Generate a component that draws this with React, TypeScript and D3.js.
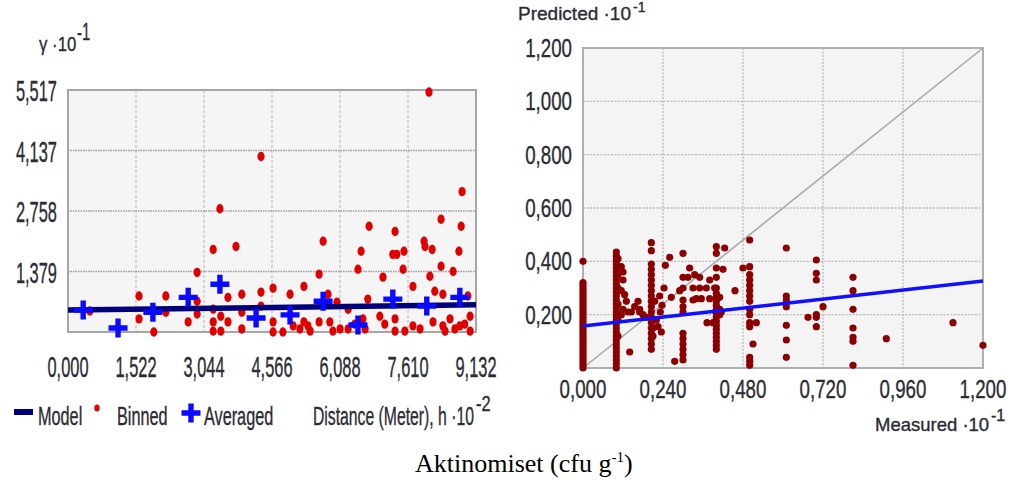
import React from "react";
import * as d3 from "d3";

// ---------- Left: semivariogram ----------
const leftXTicks = [0, 1.522, 3.044, 4.566, 6.088, 7.61, 9.132];
const leftXTickLabels = ["0,000", "1,522", "3,044", "4,566", "6,088", "7,610", "9,132"];
const leftYTicks = [1.379, 2.758, 4.137, 5.517];
const leftYTickLabels = ["1,379", "2,758", "4,137", "5,517"];
const legendLabels = ["Model", "Binned", "Averaged"];
const leftAxisTitle = "Distance (Meter), h ·10";

const modelLine: [number, number][] = [[0, 0.5], [9.132, 0.62]];

const averaged: [number, number][] = [
  [0.34, 0.5], [1.12, 0.09], [1.9, 0.45], [2.69, 0.79], [3.4, 1.09], [4.21, 0.32],
  [4.97, 0.39], [5.71, 0.7], [6.49, 0.16], [7.27, 0.75], [8.03, 0.59], [8.77, 0.79],
];

const binned: [number, number][] = [
  [0.49, 0.48], [1.59, 0.82], [1.59, 0.3], [1.92, 0.0], [2.19, 0.82], [2.19, 0.45], [2.69, 0.23],
  [2.89, 1.36], [2.89, 0.7], [2.89, 0.41], [3.25, 1.88], [3.25, 0.52], [3.25, 0.23], [3.25, 0.02],
  [3.4, 2.81], [3.42, 0.36], [3.42, 0.02], [3.58, 0.79], [3.58, 0.23], [3.76, 1.95], [3.89, 0.86],
  [3.89, 0.45], [3.89, 0.07], [4.32, 0.91], [4.32, 0.59], [4.32, 4.0], [4.59, 1.0], [4.59, 0.23],
  [4.59, 0.0], [4.81, 0.0], [4.97, 0.86], [5.04, 0.14], [5.28, 1.04], [5.28, 0.23], [5.37, 0.14],
  [5.62, 1.32], [5.62, 0.23], [5.71, 2.07], [5.82, 0.86], [5.86, 0.23], [5.93, 0.02], [6.02, 0.68],
  [6.27, 0.52], [6.27, 0.07], [6.49, 1.43], [6.56, 1.84], [6.6, 0.3], [6.71, 0.75], [6.74, 2.41],
  [6.98, 0.36], [7.05, 1.25], [7.27, 1.77], [7.32, 2.29], [7.36, 1.77], [7.32, 0.3], [7.32, 0.02],
  [7.5, 1.43], [7.52, 1.84], [7.72, 1.04], [7.72, 0.14], [7.97, 2.07], [7.99, 1.95], [8.1, 1.27],
  [8.15, 1.88], [8.17, 0.23], [8.21, 0.93], [8.35, 2.57], [8.35, 1.5], [8.39, 0.86], [8.39, 0.14],
  [8.62, 1.38], [8.75, 1.84], [8.8, 2.41], [8.82, 3.2], [8.77, 0.14], [8.95, 0.82], [9.0, 0.36],
  [9.0, 0.02], [8.08, 5.47], [6.65, 0.07], [7.09, 0.18], [7.54, 0.02], [7.88, 0.07], [8.44, 0.02],
  [8.55, 0.3], [8.66, 0.07], [8.88, 0.18], [5.19, 0.07], [5.42, 0.02], [6.09, 0.07], [6.42, 0.18],
];

// ---------- Right: measured vs predicted ----------
const rightXTicks = [0, 0.24, 0.48, 0.72, 0.96, 1.2];
const rightXTickLabels = ["0,000", "0,240", "0,480", "0,720", "0,960", "1,200"];
const rightYTicks = [0.2, 0.4, 0.6, 0.8, 1.0, 1.2];
const rightYTickLabels = ["0,200", "0,400", "0,600", "0,800", "1,000", "1,200"];
const regression: [number, number][] = [[0, 0.1575], [1.2, 0.326]];
const identity: [number, number][] = [[0, 0], [1.2, 1.2]];

const measuredPredicted: [number, number][] = [
  // measured 0
  [0, 0], [0, 0.01], [0, 0.02], [0, 0.03], [0, 0.04], [0, 0.05], [0, 0.06], [0, 0.07], [0, 0.08],
  [0, 0.09], [0, 0.1], [0, 0.11], [0, 0.12], [0, 0.13], [0, 0.14], [0, 0.15], [0, 0.16], [0, 0.17],
  [0, 0.18], [0, 0.19], [0, 0.2], [0, 0.21], [0, 0.22], [0, 0.23], [0, 0.24], [0, 0.25], [0, 0.26],
  [0, 0.27], [0, 0.28], [0, 0.29], [0, 0.3], [0, 0.31], [0, 0.32], [0, 0.4],
  // measured ~0.1
  [0.1, 0], [0.1, 0.015], [0.1, 0.03], [0.1, 0.045], [0.1, 0.06], [0.1, 0.075], [0.1, 0.09],
  [0.1, 0.105], [0.1, 0.12], [0.1, 0.135], [0.1, 0.15], [0.1, 0.165], [0.1, 0.18], [0.1, 0.195],
  [0.1, 0.21], [0.1, 0.225], [0.1, 0.24], [0.1, 0.255], [0.1, 0.27], [0.1, 0.285], [0.1, 0.3],
  [0.1, 0.315], [0.1, 0.33], [0.1, 0.345], [0.1, 0.36], [0.1, 0.375], [0.1, 0.39], [0.1, 0.405],
  [0.1, 0.42], [0.1, 0.435], [0.105, 0.41], [0.105, 0.35], [0.105, 0.3], [0.105, 0.24],
  [0.105, 0.18], [0.105, 0.12],
  [0.115, 0.38], [0.12, 0.33], [0.115, 0.29], [0.125, 0.275], [0.13, 0.25], [0.12, 0.22],
  [0.135, 0.21], [0.115, 0.2], [0.12, 0.36], [0.14, 0.06],
  [0.165, 0.25], [0.17, 0.22], [0.18, 0.2], [0.17, 0.21], [0.19, 0.19], [0.155, 0.23], [0.145, 0.21],
  // measured ~0.2
  [0.205, 0.07], [0.205, 0.09], [0.205, 0.11], [0.205, 0.13], [0.205, 0.15], [0.205, 0.17],
  [0.205, 0.19], [0.205, 0.21], [0.205, 0.23], [0.205, 0.25], [0.205, 0.27], [0.205, 0.29],
  [0.205, 0.31], [0.205, 0.33], [0.205, 0.35], [0.205, 0.37], [0.205, 0.39], [0.205, 0.44],
  [0.205, 0.47], [0.21, 0.15], [0.21, 0.12], [0.215, 0.18], [0.215, 0.25],
  [0.22, 0.18], [0.23, 0.27], [0.237, 0.235], [0.243, 0.3], [0.232, 0.21], [0.235, 0.135],
  [0.225, 0.155], [0.247, 0.385], [0.26, 0.415], [0.265, 0.265], [0.29, 0.29], [0.275, 0.025],
  // measured ~0.3
  [0.3, 0.03], [0.3, 0.05], [0.3, 0.07], [0.3, 0.09], [0.3, 0.11], [0.3, 0.13], [0.3, 0.21],
  [0.3, 0.23], [0.3, 0.255], [0.3, 0.3], [0.3, 0.34], [0.3, 0.43],
  [0.32, 0.375], [0.335, 0.35], [0.315, 0.34], [0.35, 0.34], [0.37, 0.3], [0.33, 0.3], [0.34, 0.26],
  [0.355, 0.26], [0.38, 0.26], [0.33, 0.255], [0.35, 0.3], [0.372, 0.17],
  // measured ~0.4
  [0.4, 0.07], [0.4, 0.085], [0.4, 0.1], [0.4, 0.115], [0.4, 0.13], [0.4, 0.145], [0.4, 0.16],
  [0.4, 0.175], [0.4, 0.19], [0.4, 0.205], [0.4, 0.22], [0.4, 0.235], [0.4, 0.25], [0.4, 0.265],
  [0.4, 0.28], [0.4, 0.3], [0.4, 0.34], [0.4, 0.375], [0.4, 0.43], [0.4, 0.455],
  [0.425, 0.45], [0.395, 0.3], [0.456, 0.29], [0.48, 0.375], [0.41, 0.265], [0.41, 0.22],
  [0.39, 0.17], [0.38, 0.33], [0.42, 0.37], [0.41, 0.2], [0.415, 0.21],
  // measured ~0.5
  [0.5, 0.01], [0.5, 0.025], [0.5, 0.04], [0.5, 0.155], [0.5, 0.17], [0.5, 0.2], [0.5, 0.22],
  [0.5, 0.25], [0.5, 0.27], [0.5, 0.29], [0.5, 0.31], [0.5, 0.33], [0.5, 0.35], [0.5, 0.38],
  [0.5, 0.48], [0.52, 0.17], [0.51, 0.09],
  // measured ~0.6
  [0.61, 0.04], [0.61, 0.105], [0.61, 0.16], [0.61, 0.23], [0.61, 0.255], [0.61, 0.27], [0.61, 0.45],
  // measured ~0.7
  [0.7, 0.155], [0.7, 0.19], [0.7, 0.2], [0.7, 0.33], [0.7, 0.355], [0.7, 0.405], [0.675, 0.19],
  [0.72, 0.23],
  // measured ~0.8
  [0.81, 0.01], [0.81, 0.1], [0.81, 0.115], [0.81, 0.15], [0.81, 0.22], [0.81, 0.29], [0.81, 0.34],
  [0.91, 0.11], [1.11, 0.17], [1.2, 0.085],
];

const caption = "Aktinomiset (cfu g";

const SANS = "'Liberation Sans', Arial, sans-serif";
const INK = "#2c2c34";

function T(props: {
  x: number; y: number; sx?: number; size: number; anchor?: string; fill?: string;
  family?: string; children: React.ReactNode;
}) {
  const { x, y, sx = 1, size, anchor = "start", fill = INK, family = SANS, children } = props;
  return (
    <text
      transform={`translate(${x},${y}) scale(${sx},1)`}
      fontSize={size}
      fontFamily={family}
      textAnchor={anchor}
      fill={fill}
      stroke={fill}
      strokeWidth={0.35}
    >
      {children}
    </text>
  );
}

function Plus({ x, y, s = 1 }: { x: number; y: number; s?: number }) {
  const a = 9.5 * s, w = 2.7 * s;
  const d = `M${x - w},${y - a}H${x + w}V${y - w}H${x + a}V${y + w}H${x + w}V${y + a}H${x - w}V${y + w}H${x - a}V${y - w}H${x - w}Z`;
  return <path d={d} fill="#0a0aff" />;
}

export default function App() {
  // left scales
  const lx = d3.scaleLinear().domain([0, 9.132]).range([68, 476]);
  const ly = d3.scaleLinear().domain([0, 5.517]).range([332, 90]);
  // right scales
  const rx = d3.scaleLinear().domain([0, 1.2]).range([583, 983]);
  const ry = d3.scaleLinear().domain([0, 1.2]).range([368, 48]);

  const lLine = d3.line<[number, number]>().x((d) => lx(d[0])).y((d) => ly(d[1]));
  const rLine = d3.line<[number, number]>().x((d) => rx(d[0])).y((d) => ry(d[1]));

  const lsx = 0.566, lsize = 29;
  const rsx = 0.72, rsize = 26;

  return (
    <svg
      width={1030}
      height={493}
      style={{ position: "absolute", left: 0, top: 0, background: "#fff" }}
    >
      <rect x={0} y={0} width={1030} height={493} fill="#fff" />

      {/* ===== LEFT PANEL ===== */}
      <rect x={lx(0)} y={ly(5.517)} width={lx(9.132) - lx(0)} height={ly(0) - ly(5.517)} fill="#f5f5f5" />
      {leftXTicks.slice(1, -1).map((t, i) => (
        <line key={"lvx" + i} x1={lx(t)} x2={lx(t)} y1={ly(5.517)} y2={ly(0)}
          stroke="#b5b5b5" strokeWidth={1} strokeDasharray="3,2" />
      ))}
      {leftYTicks.slice(0, -1).map((t, i) => (
        <line key={"lhy" + i} x1={lx(0)} x2={lx(9.132)} y1={ly(t)} y2={ly(t)}
          stroke="#9a9a9a" strokeWidth={1.5} strokeDasharray="1.5,1" />
      ))}
      <rect x={lx(0)} y={ly(5.517)} width={lx(9.132) - lx(0)} height={ly(0) - ly(5.517)}
        fill="none" stroke="#a6a6a6" strokeWidth={2} />

      {binned.map((d, i) => (
        <ellipse key={"b" + i} cx={lx(d[0])} cy={ly(d[1])} rx={3.6} ry={4.7} fill="#e00000" />
      ))}
      <path d={lLine(modelLine) || ""} stroke="#00007a" strokeWidth={5.5} fill="none" />
      {averaged.map((d, i) => (
        <Plus key={"a" + i} x={lx(d[0])} y={ly(d[1])} />
      ))}

      {leftXTicks.map((t, i) => (
        <T key={"lxt" + i} x={lx(t)} y={377} sx={lsx} size={lsize} anchor="middle">
          {leftXTickLabels[i]}
        </T>
      ))}
      {leftYTicks.map((t, i) => (
        <T key={"lyt" + i} x={57} y={ly(t) + 11} sx={lsx} size={lsize} anchor="end">
          {leftYTickLabels[i]}
        </T>
      ))}

      {/* y title */}
      <T x={39} y={51} sx={0.8} size={21}>γ ·10</T>
      <T x={77} y={40} sx={0.62} size={24}>-1</T>

      {/* legend */}
      <rect x={14} y={409} width={19} height={6} fill="#00007a" />
      <T x={38} y={425} sx={0.65} size={25}>{legendLabels[0]}</T>
      <ellipse cx={97} cy={408} rx={2.7} ry={3.6} fill="#e00000" />
      <T x={117} y={425} sx={0.65} size={25}>{legendLabels[1]}</T>
      <Plus x={191} y={413} />
      <T x={204} y={425} sx={0.65} size={25}>{legendLabels[2]}</T>
      <T x={313} y={425} sx={0.63} size={25}>{leftAxisTitle}</T>
      <T x={476} y={411} sx={0.75} size={22}>-2</T>

      {/* ===== RIGHT PANEL ===== */}
      <rect x={rx(0)} y={ry(1.2)} width={rx(1.2) - rx(0)} height={ry(0) - ry(1.2)} fill="#f4f4f4" />
      {rightXTicks.slice(1, -1).map((t, i) => (
        <line key={"rvx" + i} x1={rx(t)} x2={rx(t)} y1={ry(1.2)} y2={ry(0)}
          stroke="#b8b8b8" strokeWidth={1.3} strokeDasharray="2,1.5" />
      ))}
      {rightYTicks.slice(0, -1).map((t, i) => (
        <line key={"rhy" + i} x1={rx(0)} x2={rx(1.2)} y1={ry(t)} y2={ry(t)}
          stroke="#b8b8b8" strokeWidth={1.3} strokeDasharray="2,1.5" />
      ))}
      <rect x={rx(0)} y={ry(1.2)} width={rx(1.2) - rx(0)} height={ry(0) - ry(1.2)}
        fill="none" stroke="#b0b0b0" strokeWidth={2} />
      <path d={rLine(identity) || ""} stroke="#a8a8a8" strokeWidth={1.6} fill="none" />

      {measuredPredicted.map((d, i) => (
        <circle key={"m" + i} cx={rx(d[0])} cy={ry(d[1])} r={3.6} fill="#8b0000" />
      ))}
      <path d={rLine(regression) || ""} stroke="#1010ff" strokeWidth={3.5} fill="none" />

      {rightXTicks.map((t, i) => (
        <T key={"rxt" + i} x={rx(t)} y={398} sx={rsx} size={rsize} anchor="middle">
          {rightXTickLabels[i]}
        </T>
      ))}
      {rightYTicks.map((t, i) => (
        <T key={"ryt" + i} x={572} y={ry(t) + 9} sx={rsx} size={rsize} anchor="end">
          {rightYTickLabels[i]}
        </T>
      ))}

      <T x={518} y={20} size={19}>Predicted ·10</T>
      <T x={633} y={12} size={14}>-1</T>
      <T x={875} y={431} size={18.5}>Measured ·10</T>
      <T x={991} y={421} size={16}>-1</T>

      {/* caption */}
      <text x={415} y={472} fontFamily="'Liberation Serif', 'Times New Roman', serif" fontSize={26} fill="#000">
        {caption}
        <tspan dy={-10} fontSize={15}>-1</tspan>
        <tspan dy={10}>)</tspan>
      </text>
    </svg>
  );
}
